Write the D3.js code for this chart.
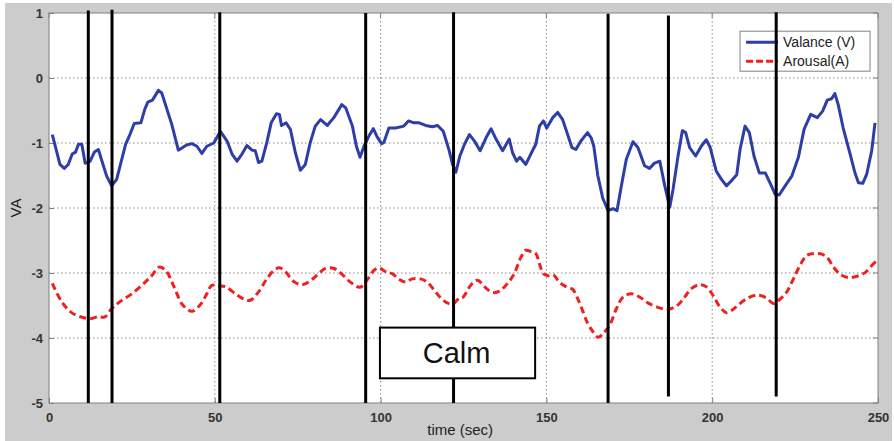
<!DOCTYPE html>
<html>
<head>
<meta charset="utf-8">
<script src="https://cdn.jsdelivr.net/npm/d3@7"></script>
<style>
  body { margin: 0; background: #fff; }
  text { font-family: "Liberation Sans", Arial, sans-serif; }
</style>
</head>
<body>
<div id="chart"></div>
<script>
// series
const valTime = [1, 3.3, 4.6, 5.8, 7, 8, 8.9, 9.9, 10.9, 12.4, 13.7, 14.9, 16.1, 17.4, 18.9, 20.4, 21.7, 23.1, 24.4, 25.7, 27.7, 28.9, 29.8, 31.2, 33, 34, 37, 39, 41.5, 43.1, 44.6, 46.1, 47.6, 49.7, 51.7, 53.7, 55.2, 56.7, 58.2, 59.7, 61.2, 62.2, 63.2, 64.2, 65.7, 67, 68.6, 69.5, 70.1, 71.5, 72.8, 74.3, 75.8, 77.3, 78.8, 80.3, 81.9, 83.9, 85.9, 88.3, 89.5, 91.5, 92.7, 93.8, 95, 96.5, 97.8, 99, 100.3, 101, 102.5, 104.5, 107, 108.4, 110.1, 111.6, 113.6, 115.6, 117.2, 118.9, 120.7, 121.7, 122.7, 123.9, 125.3, 126.8, 128.3, 130, 131.8, 133.3, 134.8, 136.8, 138.8, 139.8, 141, 142, 143.8, 145.3, 146.8, 147.9, 149.1, 150.1, 151.9, 153.4, 154.9, 156.4, 157.7, 158.9, 160.4, 162.4, 163.5, 164.3, 165.5, 167, 168.6, 170.1, 171.3, 172.6, 174.1, 176.1, 177.6, 179.6, 181.1, 182.6, 184.2, 185.7, 187.2, 188.2, 189.7, 191, 192, 193.2, 195, 196.7, 198.2, 199.4, 201.2, 202.8, 204.3, 205.8, 207.4, 208.4, 209.9, 211.2, 212.6, 214.2, 216, 217.4, 219, 220.2, 222, 224, 226, 227.7, 229.7, 231.7, 233.3, 234.7, 236, 237, 238, 239.5, 241.6, 243, 244.1, 245.4, 246.6, 248.1, 249.1];
const valValue = [-0.87, -1.33, -1.39, -1.33, -1.17, -1.14, -1.02, -1.02, -1.31, -1.28, -1.14, -1.10, -1.30, -1.51, -1.66, -1.56, -1.30, -1.02, -0.87, -0.70, -0.69, -0.48, -0.37, -0.34, -0.19, -0.23, -0.71, -1.11, -1.03, -1.01, -1.05, -1.16, -1.05, -1.00, -0.82, -0.97, -1.17, -1.28, -1.17, -1.04, -1.11, -1.12, -1.30, -1.28, -0.99, -0.69, -0.55, -0.56, -0.73, -0.69, -0.79, -1.15, -1.42, -1.33, -0.99, -0.74, -0.64, -0.73, -0.61, -0.41, -0.46, -0.74, -1.05, -1.22, -1.05, -0.89, -0.78, -0.91, -1.01, -0.99, -0.77, -0.77, -0.74, -0.66, -0.69, -0.69, -0.73, -0.75, -0.73, -0.82, -1.12, -1.33, -1.45, -1.20, -1.02, -0.87, -0.97, -1.12, -0.92, -0.78, -0.94, -1.12, -0.94, -1.15, -1.28, -1.22, -1.33, -1.17, -1.02, -0.74, -0.66, -0.77, -0.61, -0.53, -0.64, -0.87, -1.07, -1.10, -0.97, -0.84, -0.92, -1.05, -1.50, -1.85, -2.04, -2.01, -2.04, -1.66, -1.25, -0.98, -1.07, -1.35, -1.39, -1.31, -1.28, -1.66, -1.99, -1.71, -1.20, -0.81, -0.84, -1.07, -1.20, -1.05, -0.95, -1.07, -1.43, -1.56, -1.66, -1.58, -1.49, -1.10, -0.74, -0.84, -1.20, -1.46, -1.46, -1.61, -1.79, -1.80, -1.66, -1.51, -1.22, -0.79, -0.56, -0.61, -0.51, -0.34, -0.32, -0.24, -0.41, -0.77, -1.17, -1.45, -1.61, -1.62, -1.48, -1.12, -0.69];

const aroTime = [1, 3.8, 6.8, 9.9, 12.9, 14.9, 16.7, 18.9, 21.4, 25, 29, 31, 33.2, 35.2, 37.5, 40, 41.6, 43.1, 45.6, 47.6, 49.1, 51.2, 53.2, 56.2, 58.7, 60.7, 63.2, 65.7, 67.8, 69.5, 71.3, 73.8, 76.3, 78.8, 81.3, 83.4, 85.9, 88.4, 90.9, 93.8, 96, 98, 99.5, 101.5, 103.5, 105.7, 107.5, 109.5, 112, 114.1, 116.1, 118.1, 120.1, 121.6, 123.7, 124.9, 127.3, 129.3, 131.3, 133.8, 135.8, 138.3, 140.3, 142.3, 143.8, 145.3, 146.8, 147.9, 149.1, 150.4, 152.1, 153.9, 155.9, 157.9, 159.4, 161, 162.4, 164, 165.6, 167.1, 169.1, 171.1, 173.1, 175.6, 178.1, 180.6, 183.2, 186.7, 189.7, 191.7, 193.7, 196.2, 198.2, 200.2, 202.3, 204.3, 206.3, 207.9, 210.9, 213.9, 216.5, 218.5, 220.5, 222.5, 224.5, 226.5, 228.5, 230.6, 233.1, 234.8, 236.6, 238.6, 241.1, 243.7, 246.2, 248.2, 249.4];
const aroValue = [-3.16, -3.44, -3.61, -3.68, -3.70, -3.67, -3.68, -3.55, -3.44, -3.32, -3.14, -3.04, -2.91, -2.96, -3.19, -3.47, -3.55, -3.59, -3.49, -3.32, -3.19, -3.20, -3.21, -3.32, -3.40, -3.42, -3.29, -3.09, -2.96, -2.92, -2.98, -3.13, -3.18, -3.12, -3.01, -2.93, -2.93, -3.02, -3.14, -3.22, -3.10, -2.96, -2.92, -2.98, -3.01, -3.10, -3.14, -3.09, -3.09, -3.14, -3.26, -3.38, -3.46, -3.48, -3.39, -3.37, -3.18, -3.11, -3.21, -3.30, -3.28, -3.16, -3.01, -2.76, -2.65, -2.67, -2.70, -2.86, -3.01, -3.04, -3.03, -3.14, -3.21, -3.25, -3.39, -3.59, -3.77, -3.90, -3.99, -3.93, -3.80, -3.55, -3.37, -3.32, -3.37, -3.46, -3.52, -3.56, -3.49, -3.37, -3.24, -3.18, -3.21, -3.34, -3.52, -3.61, -3.56, -3.49, -3.38, -3.34, -3.39, -3.47, -3.40, -3.29, -3.09, -2.88, -2.73, -2.70, -2.71, -2.77, -2.91, -3.02, -3.07, -3.05, -2.99, -2.88, -2.82];

// vertical event markers (time, top and bottom in VA units)
const eventTime = [11.85, 19.0, 51.5, 95.5, 122.0, 168.6, 186.8, 219.3];
const eventTop = [1.04, 1.05, 1.01, 1.0, 1.01, 0.99, 0.96, 1.01];
const eventBottom = [-5, -5, -5, -5, -5, -5, -4.9, -4.9];

const xTicks = [0, 50, 100, 150, 200, 250];
const yTicks = [1, 0, -1, -2, -3, -4, -5];
const seriesNames = ["Valance (V)", "Arousal(A)"];
const calmLabel = "Calm";
const calmBox = [99.8, 146.6, -3.84, -4.62]; // t0, t1, v0, v1

const svgWidth = 894;
const svgHeight = 441;
const margin = { top: 13, right: 16, bottom: 38, left: 49 };
const width = svgWidth - margin.left - margin.right;
const height = svgHeight - margin.top - margin.bottom;

const svg = d3.select("#chart")
  .append("svg")
  .attr("width", svgWidth)
  .attr("height", svgHeight);

// figure background
svg.append("rect")
  .attr("x", 5).attr("y", 3)
  .attr("width", 887).attr("height", 438)
  .attr("fill", "#cccccc");

const chartGroup = svg.append("g")
  .attr("transform", `translate(${margin.left}, ${margin.top})`);

const x = d3.scaleLinear().domain([0, 250]).range([0, width]);
const y = d3.scaleLinear().domain([-5, 1]).range([height, 0]);

chartGroup.append("rect")
  .attr("width", width).attr("height", height)
  .attr("fill", "#fff");

// dotted grid
chartGroup.append("g")
  .selectAll("line")
  .data(yTicks.slice(1, -1))
  .enter()
  .append("line")
  .attr("x1", 0).attr("x2", width)
  .attr("y1", d => y(d)).attr("y2", d => y(d))
  .attr("stroke", "#8a8a8a")
  .attr("stroke-dasharray", "1.5,2.5");

chartGroup.append("g")
  .selectAll("line")
  .data(xTicks.slice(1, -1))
  .enter()
  .append("line")
  .attr("y1", 0).attr("y2", height)
  .attr("x1", d => x(d)).attr("x2", d => x(d))
  .attr("stroke", "#8a8a8a")
  .attr("stroke-dasharray", "1.5,2.5");

// axes, ticks inside like matlab, plain hyphen minus
const bottomAxis = d3.axisBottom(x).tickValues(xTicks).tickSize(-5).tickPadding(10)
  .tickFormat(d => String(d));
const leftAxis = d3.axisLeft(y).tickValues(yTicks).tickSize(-5).tickPadding(6)
  .tickFormat(d => String(d));

const xAxisG = chartGroup.append("g")
  .attr("transform", `translate(0, ${height})`)
  .call(bottomAxis);
const yAxisG = chartGroup.append("g").call(leftAxis);

[xAxisG, yAxisG].forEach(g => {
  g.select(".domain").remove();
  g.selectAll("line").attr("stroke", "#808080");
  g.selectAll("text")
    .attr("fill", "#333")
    .attr("font-size", 13)
    .attr("font-weight", "bold")
    .style("font-family", "'Liberation Sans', Arial, sans-serif");
});

// top and right ticks
chartGroup.append("g").selectAll("line").data(xTicks).enter().append("line")
  .attr("x1", d => x(d)).attr("x2", d => x(d)).attr("y1", 0).attr("y2", 5)
  .attr("stroke", "#808080");
chartGroup.append("g").selectAll("line").data(yTicks).enter().append("line")
  .attr("x1", width - 5).attr("x2", width).attr("y1", d => y(d)).attr("y2", d => y(d))
  .attr("stroke", "#808080");

chartGroup.append("rect")
  .attr("width", width).attr("height", height)
  .attr("fill", "none")
  .attr("stroke", "#808080");

// lines
const valData = valTime.map((t, i) => ({ t: t, v: valValue[i] }));
const aroData = aroTime.map((t, i) => ({ t: t, v: aroValue[i] }));

const valLine = d3.line().x(d => x(d.t)).y(d => y(d.v));
const aroLine = d3.line().x(d => x(d.t)).y(d => y(d.v)).curve(d3.curveCatmullRom.alpha(0.5));

chartGroup.append("path")
  .datum(valData)
  .attr("d", valLine)
  .attr("fill", "none")
  .attr("stroke", "#2e3ea8")
  .attr("stroke-width", 3)
  .attr("stroke-linejoin", "round");

chartGroup.append("path")
  .datum(aroData)
  .attr("d", aroLine)
  .attr("fill", "none")
  .attr("stroke", "#ee2020")
  .attr("stroke-width", 3)
  .attr("stroke-dasharray", "7,4");

// legend
const legend = chartGroup.append("g")
  .attr("transform", `translate(${x(208.4)}, ${y(0.72)})`);

legend.append("rect")
  .attr("width", 130).attr("height", 40)
  .attr("fill", "#fff")
  .attr("stroke", "#808080");

legend.selectAll("line")
  .data(seriesNames)
  .enter()
  .append("line")
  .attr("x1", 6).attr("x2", 38)
  .attr("y1", (d, i) => 11 + i * 19).attr("y2", (d, i) => 11 + i * 19)
  .attr("stroke", (d, i) => i === 0 ? "#2e3ea8" : "#ee2020")
  .attr("stroke-width", 3)
  .attr("stroke-dasharray", (d, i) => i === 0 ? null : "7,3");

legend.selectAll("text")
  .data(seriesNames)
  .enter()
  .append("text")
  .attr("x", 43)
  .attr("y", (d, i) => 11 + i * 19)
  .attr("dy", "0.35em")
  .attr("font-size", 14)
  .attr("fill", "#222")
  .text(d => d);

// event markers
chartGroup.append("g")
  .selectAll("line")
  .data(eventTime)
  .enter()
  .append("line")
  .attr("x1", d => x(d)).attr("x2", d => x(d))
  .attr("y1", (d, i) => y(eventTop[i]))
  .attr("y2", (d, i) => y(eventBottom[i]))
  .attr("stroke", "#000")
  .attr("stroke-width", 3);

// Calm annotation box
chartGroup.append("rect")
  .attr("x", x(calmBox[0]))
  .attr("y", y(calmBox[2]))
  .attr("width", x(calmBox[1]) - x(calmBox[0]))
  .attr("height", y(calmBox[3]) - y(calmBox[2]))
  .attr("fill", "#fff")
  .attr("stroke", "#000")
  .attr("stroke-width", 2);

chartGroup.append("text")
  .attr("x", (x(calmBox[0]) + x(calmBox[1])) / 2 - 1)
  .attr("y", (y(calmBox[2]) + y(calmBox[3])) / 2)
  .attr("dy", "0.36em")
  .attr("text-anchor", "middle")
  .attr("font-size", 29)
  .attr("fill", "#111")
  .text(calmLabel);

// axis labels
chartGroup.append("text")
  .attr("transform", "rotate(-90)")
  .attr("x", 0 - y(-2.0))
  .attr("y", 0 - margin.left + 21)
  .attr("text-anchor", "middle")
  .attr("font-size", 15)
  .attr("fill", "#222")
  .text("VA");

chartGroup.append("text")
  .attr("x", x(124))
  .attr("y", height + 32)
  .attr("text-anchor", "middle")
  .attr("font-size", 15)
  .attr("fill", "#222")
  .text("time (sec)");
</script>
</body>
</html>
